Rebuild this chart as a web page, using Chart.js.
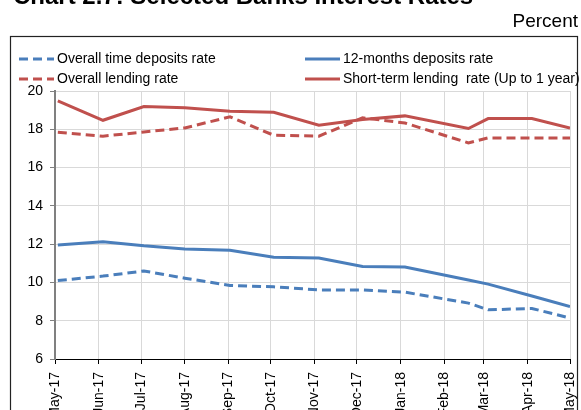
<!DOCTYPE html>
<html>
<head>
<meta charset="utf-8">
<script src="https://cdn.jsdelivr.net/npm/chart.js@4"></script>
<style>
  html, body { margin: 0; padding: 0; background: #fff; overflow: hidden; }
  canvas { display: block; }
</style>
</head>
<body>
<canvas id="rates" width="581" height="410"></canvas>
<script>
  // Month tick labels and their positions (days after 1 May 2017)
  const monthLabels = ['May-17', 'Jun-17', 'Jul-17', 'Aug-17', 'Sep-17', 'Oct-17', 'Nov-17',
                       'Dec-17', 'Jan-18', 'Feb-18', 'Mar-18', 'Apr-18', 'May-18'];
  const monthStarts = [0, 31, 61, 92, 123, 153, 184, 214, 245, 276, 304, 335, 365];

  // Observation dates (days after 1 May 2017)
  const pointDays = [2, 34, 63, 92, 124, 155, 187, 218, 248, 293, 307, 338, 365];

  // Series values, percent
  const timeDeposits = [10.10, 10.33, 10.60, 10.22, 9.84, 9.77, 9.61, 9.61, 9.49, 8.92, 8.57, 8.64, 8.14];
  const twelveMonths = [11.96, 12.13, 11.91, 11.74, 11.68, 11.32, 11.27, 10.83, 10.80, 10.13, 9.91, 9.29, 8.74];
  const lending      = [17.85, 17.64, 17.86, 18.07, 18.65, 17.69, 17.64, 18.60, 18.33, 17.29, 17.55, 17.55, 17.55];
  const shortTerm    = [19.48, 18.47, 19.19, 19.13, 18.94, 18.89, 18.21, 18.51, 18.70, 18.04, 18.56, 18.56, 18.07];

  const BLUE = '#4a7ebb';
  const RED = '#c0504d';
  const FONT = '"Liberation Sans", Arial, sans-serif';

  const toPoints = vals => vals.map((v, i) => ({ x: pointDays[i], y: v }));

  // title, "Percent", outer frame and the two-column legend
  const decorations = {
    id: 'decorations',
    afterDraw(chart) {
      const ctx = chart.ctx;
      ctx.save();
      ctx.fillStyle = '#000';
      ctx.textBaseline = 'alphabetic';
      ctx.font = 'bold 24px ' + FONT;
      ctx.textAlign = 'left';
      ctx.fillText('Chart 2.7: Selected Banks Interest Rates', 13, 4);

      ctx.font = '19px ' + FONT;
      ctx.textAlign = 'right';
      ctx.fillText('Percent', 578, 27);

      ctx.strokeStyle = '#222';
      ctx.lineWidth = 1.2;
      ctx.strokeRect(10.5, 36.5, 567, 400);

      ctx.font = '14px ' + FONT;
      ctx.textAlign = 'left';
      ctx.textBaseline = 'middle';
      chart.data.datasets.forEach((ds, i) => {
        const x = i % 2 === 0 ? 19 : 305;
        const y = i < 2 ? 59 : 79;
        ctx.strokeStyle = ds.borderColor;
        ctx.lineWidth = 3;
        ctx.setLineDash(ds.borderDash || []);
        ctx.beginPath();
        ctx.moveTo(x, y);
        ctx.lineTo(x + 35, y);
        ctx.stroke();
        ctx.setLineDash([]);
        ctx.fillText(ds.label, x + 38, y);
      });
      ctx.restore();
    }
  };

  const ratesChart = new Chart(document.getElementById('rates'), {
    type: 'line',
    data: {
      datasets: [
        {
          label: 'Overall time deposits rate',
          data: toPoints(timeDeposits),
          borderColor: BLUE,
          borderDash: [9, 5],
          borderWidth: 3
        },
        {
          label: '12-months deposits rate',
          data: toPoints(twelveMonths),
          borderColor: BLUE,
          borderWidth: 3
        },
        {
          label: 'Overall lending rate',
          data: toPoints(lending),
          borderColor: RED,
          borderDash: [9, 5],
          borderWidth: 3
        },
        {
          label: 'Short-term lending  rate (Up to 1 year)',
          data: toPoints(shortTerm),
          borderColor: RED,
          borderWidth: 3
        }
      ]
    },
    options: {
      responsive: false,
      animation: false,
      layout: { padding: { top: 91, right: 11, left: 0, bottom: 0 } },
      elements: { point: { radius: 0 }, line: { tension: 0 } },
      plugins: {
        legend: { display: false },
        tooltip: { enabled: false }
      },
      scales: {
        x: {
          type: 'linear',
          min: 0,
          max: 365,
          afterFit(scale) {
            scale.height = 51;
            scale.paddingLeft = 0;
            scale.paddingRight = 0;
          },
          afterBuildTicks(scale) { scale.ticks = monthStarts.map(v => ({ value: v })); },
          grid: { color: '#d9d9d9', tickColor: '#000', tickLength: 5 },
          border: { color: '#000', width: 1 },
          ticks: {
            autoSkip: false,
            minRotation: 90,
            maxRotation: 90,
            padding: 8,
            color: '#000',
            font: { family: FONT, size: 14 },
            callback: (value, index) => monthLabels[index]
          }
        },
        y: {
          min: 6,
          max: 20,
          afterFit(scale) {
            scale.width = 55;
            scale.paddingTop = 0;
            scale.paddingBottom = 0;
          },
          grid: { color: '#d9d9d9', tickColor: '#808080', tickLength: 5 },
          border: { color: '#808080', width: 2 },
          ticks: {
            stepSize: 2,
            padding: 7,
            color: '#000',
            font: { family: FONT, size: 14 }
          }
        }
      }
    },
    plugins: [decorations]
  });
</script>
</body>
</html>
